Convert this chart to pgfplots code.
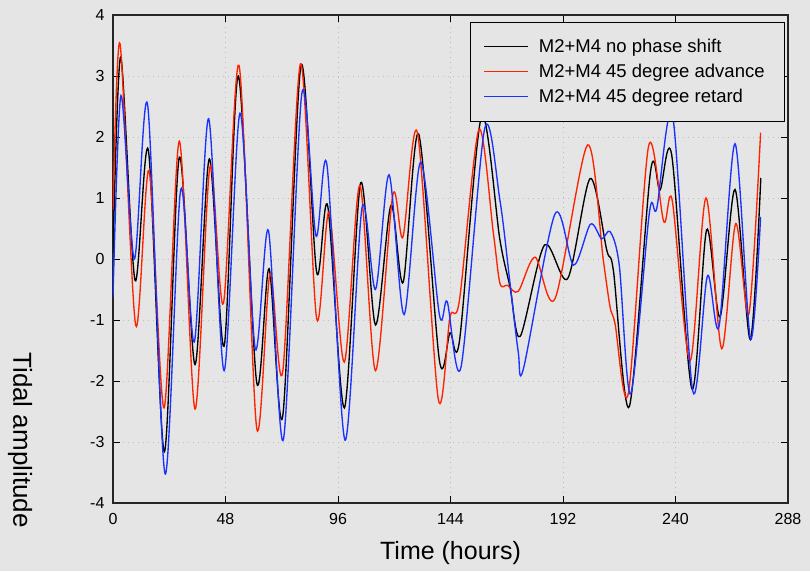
\documentclass[border=0pt]{standalone}
\usepackage{pgfplots}
\pgfplotsset{compat=1.18}
\usepackage{fontspec}
\setmainfont{Liberation Sans}
\definecolor{bg}{RGB}{229,229,229}
\definecolor{myred}{RGB}{255,34,0}
\definecolor{myblue}{RGB}{25,50,255}
\definecolor{gridc}{RGB}{190,190,190}
\begin{document}
\begin{tikzpicture}
\fill[bg] (-113pt,-68pt) rectangle (697pt,503pt);
\useasboundingbox (-113pt,-68pt) rectangle (697pt,503pt);
\begin{axis}[
  at={(0,0)}, anchor=south west,
  scale only axis, width=675pt, height=488pt,
  xmin=0, xmax=288, ymin=-4, ymax=4,
  xtick={0,48,...,288}, ytick={-4,-3,...,4},
  tick align=inside, major tick length=7pt,
  tick style={line width=0.9pt, color=black},
  axis line style={line width=1.1pt, color=black!85},
  grid=major, major grid style={gridc, line width=0.9pt, dash pattern=on 1pt off 4pt},
  axis background/.style={fill=bg},
  /pgf/number format/assume math mode=true,
  ticklabel style={font=\fontsize{16}{19}\selectfont},
  xticklabel style={yshift=-7pt},
  yticklabel style={xshift=-5pt},
  every axis x label/.style={at={(rel axis cs:0.5,0)}, yshift=-50pt, anchor=center, font=\fontsize{25}{30}\selectfont},
  every axis y label/.style={at={(rel axis cs:0,0.129)}, xshift=-93pt, rotate=-90, anchor=center, font=\fontsize{26}{30}\selectfont},
  xlabel={Time (hours)},
  ylabel={Tidal amplitude},
  legend style={at={(rel axis cs:0.9956,0.9857)}, anchor=north east, draw=black, line width=0.8pt, fill=bg,
    font=\fontsize{18.5}{22}\selectfont, inner xsep=13pt, inner ysep=15pt, row sep=6pt, column sep=8pt, cells={anchor=west}},
  legend image code/.code={\draw[#1, line width=1.3pt] (0pt,0pt) -- (44pt,0pt);},
  every axis plot/.append style={line width=1.35pt, smooth, tension=0.5},
]
\addplot[black] coordinates {
(0,0.1) (3.3,3.31) (9.4,-0.35) (15.1,1.78) (21.9,-3.16) (28.3,1.67) (35.0,-1.73) (41.1,1.64)
(47.4,-1.43) (53.5,3.0) (61.3,-2.02) (66.6,-0.16) (72.4,-2.58) (80.2,3.17) (86.9,-0.22)
(91.6,0.87) (98.7,-2.44) (105.7,1.25) (112.0,-1.08) (118.6,0.88) (123.8,-0.38) (130.4,2.05)
(139.3,-1.67) (143.8,-1.21) (147.8,-1.35) (157.2,2.33) (165.1,0.31) (169.4,-0.46) (173.7,-1.27)
(184.1,0.23) (194.0,-0.32) (203.6,1.32) (210.7,0.14) (213.5,-0.19) (220.3,-2.42) (229.4,1.45)
(233.4,1.13) (238.4,1.70) (247.0,-2.13) (253.3,0.48) (259.0,-0.95) (265.4,1.14) (271.9,-1.32)
(276.4,1.33)
};
\addlegendentry{M2+M4 no phase shift}
\addplot[myred] coordinates {
(0,0.8) (3.0,3.53) (9.7,-1.09) (15.4,1.45) (21.8,-2.44) (28.3,1.93) (35.0,-2.46) (41.4,1.52)
(47.1,-0.73) (53.8,3.17) (61.3,-2.77) (67.0,-0.24) (72.4,-1.85) (80.0,3.2) (86.9,-0.98)
(92.2,0.77) (98.7,-1.69) (105.3,1.21) (112.0,-1.83) (119.4,1.05) (123.7,0.36) (129.9,2.07)
(138.8,-2.30) (143.8,-0.95) (147.8,-0.68) (156.1,2.12) (162.3,0.42) (165.1,-0.40) (168.3,-0.43)
(172.9,-0.53) (180.1,0.03) (188.6,-0.65) (202.5,1.87) (209.2,-0.02) (212.1,-0.79) (214.2,-1.06)
(219.9,-2.20) (228.5,1.85) (235.0,0.61) (238.6,0.96) (246.2,-1.67) (253.0,1.0) (259.7,-1.47)
(265.7,0.58) (271.3,-0.90) (276.3,2.07)
};
\addlegendentry{M2+M4 45 degree advance\kern5pt}
\addplot[myblue] coordinates {
(0,-0.62) (3.4,2.68) (9.1,0.0) (14.8,2.52) (22.2,-3.52) (28.9,1.14) (34.7,-1.36) (40.8,2.30)
(47.4,-1.83) (54.2,2.39) (60.7,-1.47) (66.3,0.47) (72.7,-2.96) (80.6,2.72) (86.6,0.38)
(91.3,1.54) (99.0,-2.97) (106.3,0.85) (112.0,-0.50) (117.8,1.38) (124.2,-0.91) (131.3,1.59)
(139.3,-0.92) (142.6,-0.70) (148.5,-1.77) (158.6,2.14) (165.1,0.96) (169.4,-0.40) (172.9,-1.52)
(175.1,-1.80) (188.6,0.74) (196.5,-0.10) (203.7,0.57) (208.5,0.33) (212.1,0.45) (216.0,-0.1)
(220.9,-2.21) (228.9,0.77) (232.0,0.83) (238.8,2.34) (247.4,-2.17) (253.6,-0.28) (258.6,-1.10)
(265.4,1.89) (272.0,-1.31) (276.3,0.69)
};
\addlegendentry{M2+M4 45 degree retard}
\end{axis}
\end{tikzpicture}
\end{document}
